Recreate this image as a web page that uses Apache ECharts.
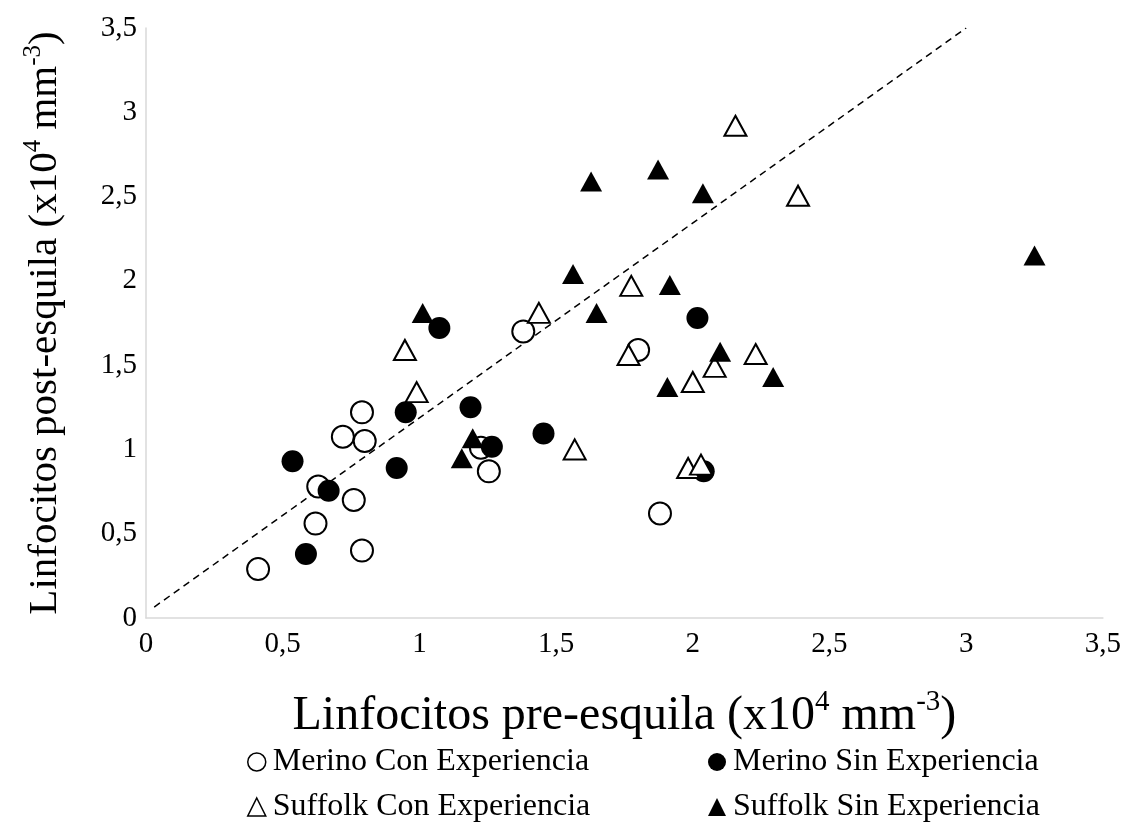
<!DOCTYPE html>
<html><head><meta charset="utf-8">
<script src="https://cdn.jsdelivr.net/npm/echarts@6/dist/echarts.min.js"></script>
<style>html,body{margin:0;padding:0;background:#fff}#c{width:1124px;height:823px}</style>
</head><body><div id="c"></div>
<script>
const seriesNames = ['Merino Con Experiencia','Merino Sin Experiencia','Suffolk Con Experiencia','Suffolk Sin Experiencia'];
const merinoCon = [[0.41,0.29],[0.62,0.56],[0.63,0.78],[0.76,0.70],[0.79,0.40],[0.72,1.075],[0.80,1.05],[0.79,1.22],[1.38,1.70],[1.80,1.59],[1.225,1.01],[1.254,0.87],[1.88,0.62]];
const merinoSin = [[0.536,0.93],[0.585,0.38],[0.668,0.755],[0.917,0.89],[0.95,1.22],[1.073,1.72],[1.187,1.25],[1.265,1.016],[1.454,1.095],[2.017,1.78],[2.04,0.87]];
const suffolkCon = [[0.947,1.59],[0.99,1.34],[1.437,1.81],[1.775,1.97],[1.765,1.56],[1.568,1.00],[2.0,1.40],[2.08,1.49],[2.23,1.566],[1.983,0.89],[2.03,0.91],[2.156,2.92],[2.385,2.505]];
const suffolkSin = [[1.012,1.81],[1.195,1.066],[1.155,0.947],[1.648,1.81],[1.562,2.04],[1.916,1.975],[1.907,1.37],[2.1,1.58],[1.628,2.59],[1.873,2.66],[2.037,2.52],[2.294,1.43],[3.25,2.15]];
const trendLine = [[0.03,0.065],[3.0,3.5]];

const FONT = '"Liberation Serif","Times New Roman",serif';
const fmt = v => String(v).replace('.', ',');
const styles = [
  {symbol:'circle', symbolSize:22, itemStyle:{color:'#fff', borderColor:'#000', borderWidth:2, opacity:1}},
  {symbol:'circle', symbolSize:22, itemStyle:{color:'#000', borderColor:'#000', borderWidth:0, opacity:1}},
  {symbol:'triangle', symbolSize:[22,20], itemStyle:{color:'#fff', borderColor:'#000', borderWidth:2, opacity:1}},
  {symbol:'triangle', symbolSize:[22,20], itemStyle:{color:'#000', borderColor:'#000', borderWidth:0, opacity:1}}
];
const datasets = [merinoCon, merinoSin, suffolkCon, suffolkSin];
const series = datasets.map((d,i)=>Object.assign({type:'scatter', name:seriesNames[i], data:d, z:3}, styles[i]));
series.push({type:'line', name:'trend', data:trendLine, symbol:'none', silent:true, z:2,
  lineStyle:{color:'#000', width:1.5, type:[7,5]}});

const legPos = [[242,741],[703,741],[242,786],[703,786]];
const legends = seriesNames.map((n,i)=>({
  data:[{name:n, itemStyle: i%2===0 ? {color:'#fff', borderColor:'#000', borderWidth:1.5, opacity:1} : {color:'#000', opacity:1}}],
  left:legPos[i][0], top:legPos[i][1], itemWidth:18, itemHeight:18, itemGap:4,
  icon: i<2 ? 'circle' : 'triangle',
  textStyle:{fontFamily:FONT, fontSize:32, color:'#000', padding:[0,0,0,2]},
  selectedMode:false
}));

const chart = echarts.init(document.getElementById('c'), null, {renderer:'canvas'});
chart.setOption({
  animation:false,
  backgroundColor:'#fff',
  grid:{left:146, right:21, top:28, bottom:205, containLabel:false},
  legend: legends,
  xAxis:{type:'value', min:0, max:3.5, interval:0.5,
    axisLine:{show:true, lineStyle:{color:'#d9d9d9', width:1.5}},
    axisTick:{show:false}, splitLine:{show:false},
    axisLabel:{fontFamily:FONT, fontSize:29, color:'#000', margin:12, formatter:v=>fmt(v)},
    name:'{b|Linfocitos pre-esquila (x10}{s|4}{b| mm}{s|-3}{b|)}', nameLocation:'middle', nameGap:70,
    nameTextStyle:{rich:{b:{fontFamily:FONT, fontSize:48, color:'#000', lineHeight:52, verticalAlign:'bottom'},
                         s:{fontFamily:FONT, fontSize:29, color:'#000', lineHeight:52, verticalAlign:'top'}}}
  },
  yAxis:{type:'value', min:0, max:3.5, interval:0.5,
    axisLine:{show:true, lineStyle:{color:'#d9d9d9', width:1.5}},
    axisTick:{show:false}, splitLine:{show:false},
    axisLabel:{fontFamily:FONT, fontSize:29, color:'#000', margin:9, formatter:v=>fmt(v)},
    name:'{b|Linfocitos post-esquila (x10}{s|4}{b| mm}{s|-3}{b|)}', nameLocation:'middle', nameGap:80, nameRotate:90,
    nameTextStyle:{rich:{b:{fontFamily:FONT, fontSize:41, color:'#000', lineHeight:45, verticalAlign:'bottom'},
                         s:{fontFamily:FONT, fontSize:25, color:'#000', lineHeight:45, verticalAlign:'top'}}}
  },
  series: series
});
</script></body></html>
